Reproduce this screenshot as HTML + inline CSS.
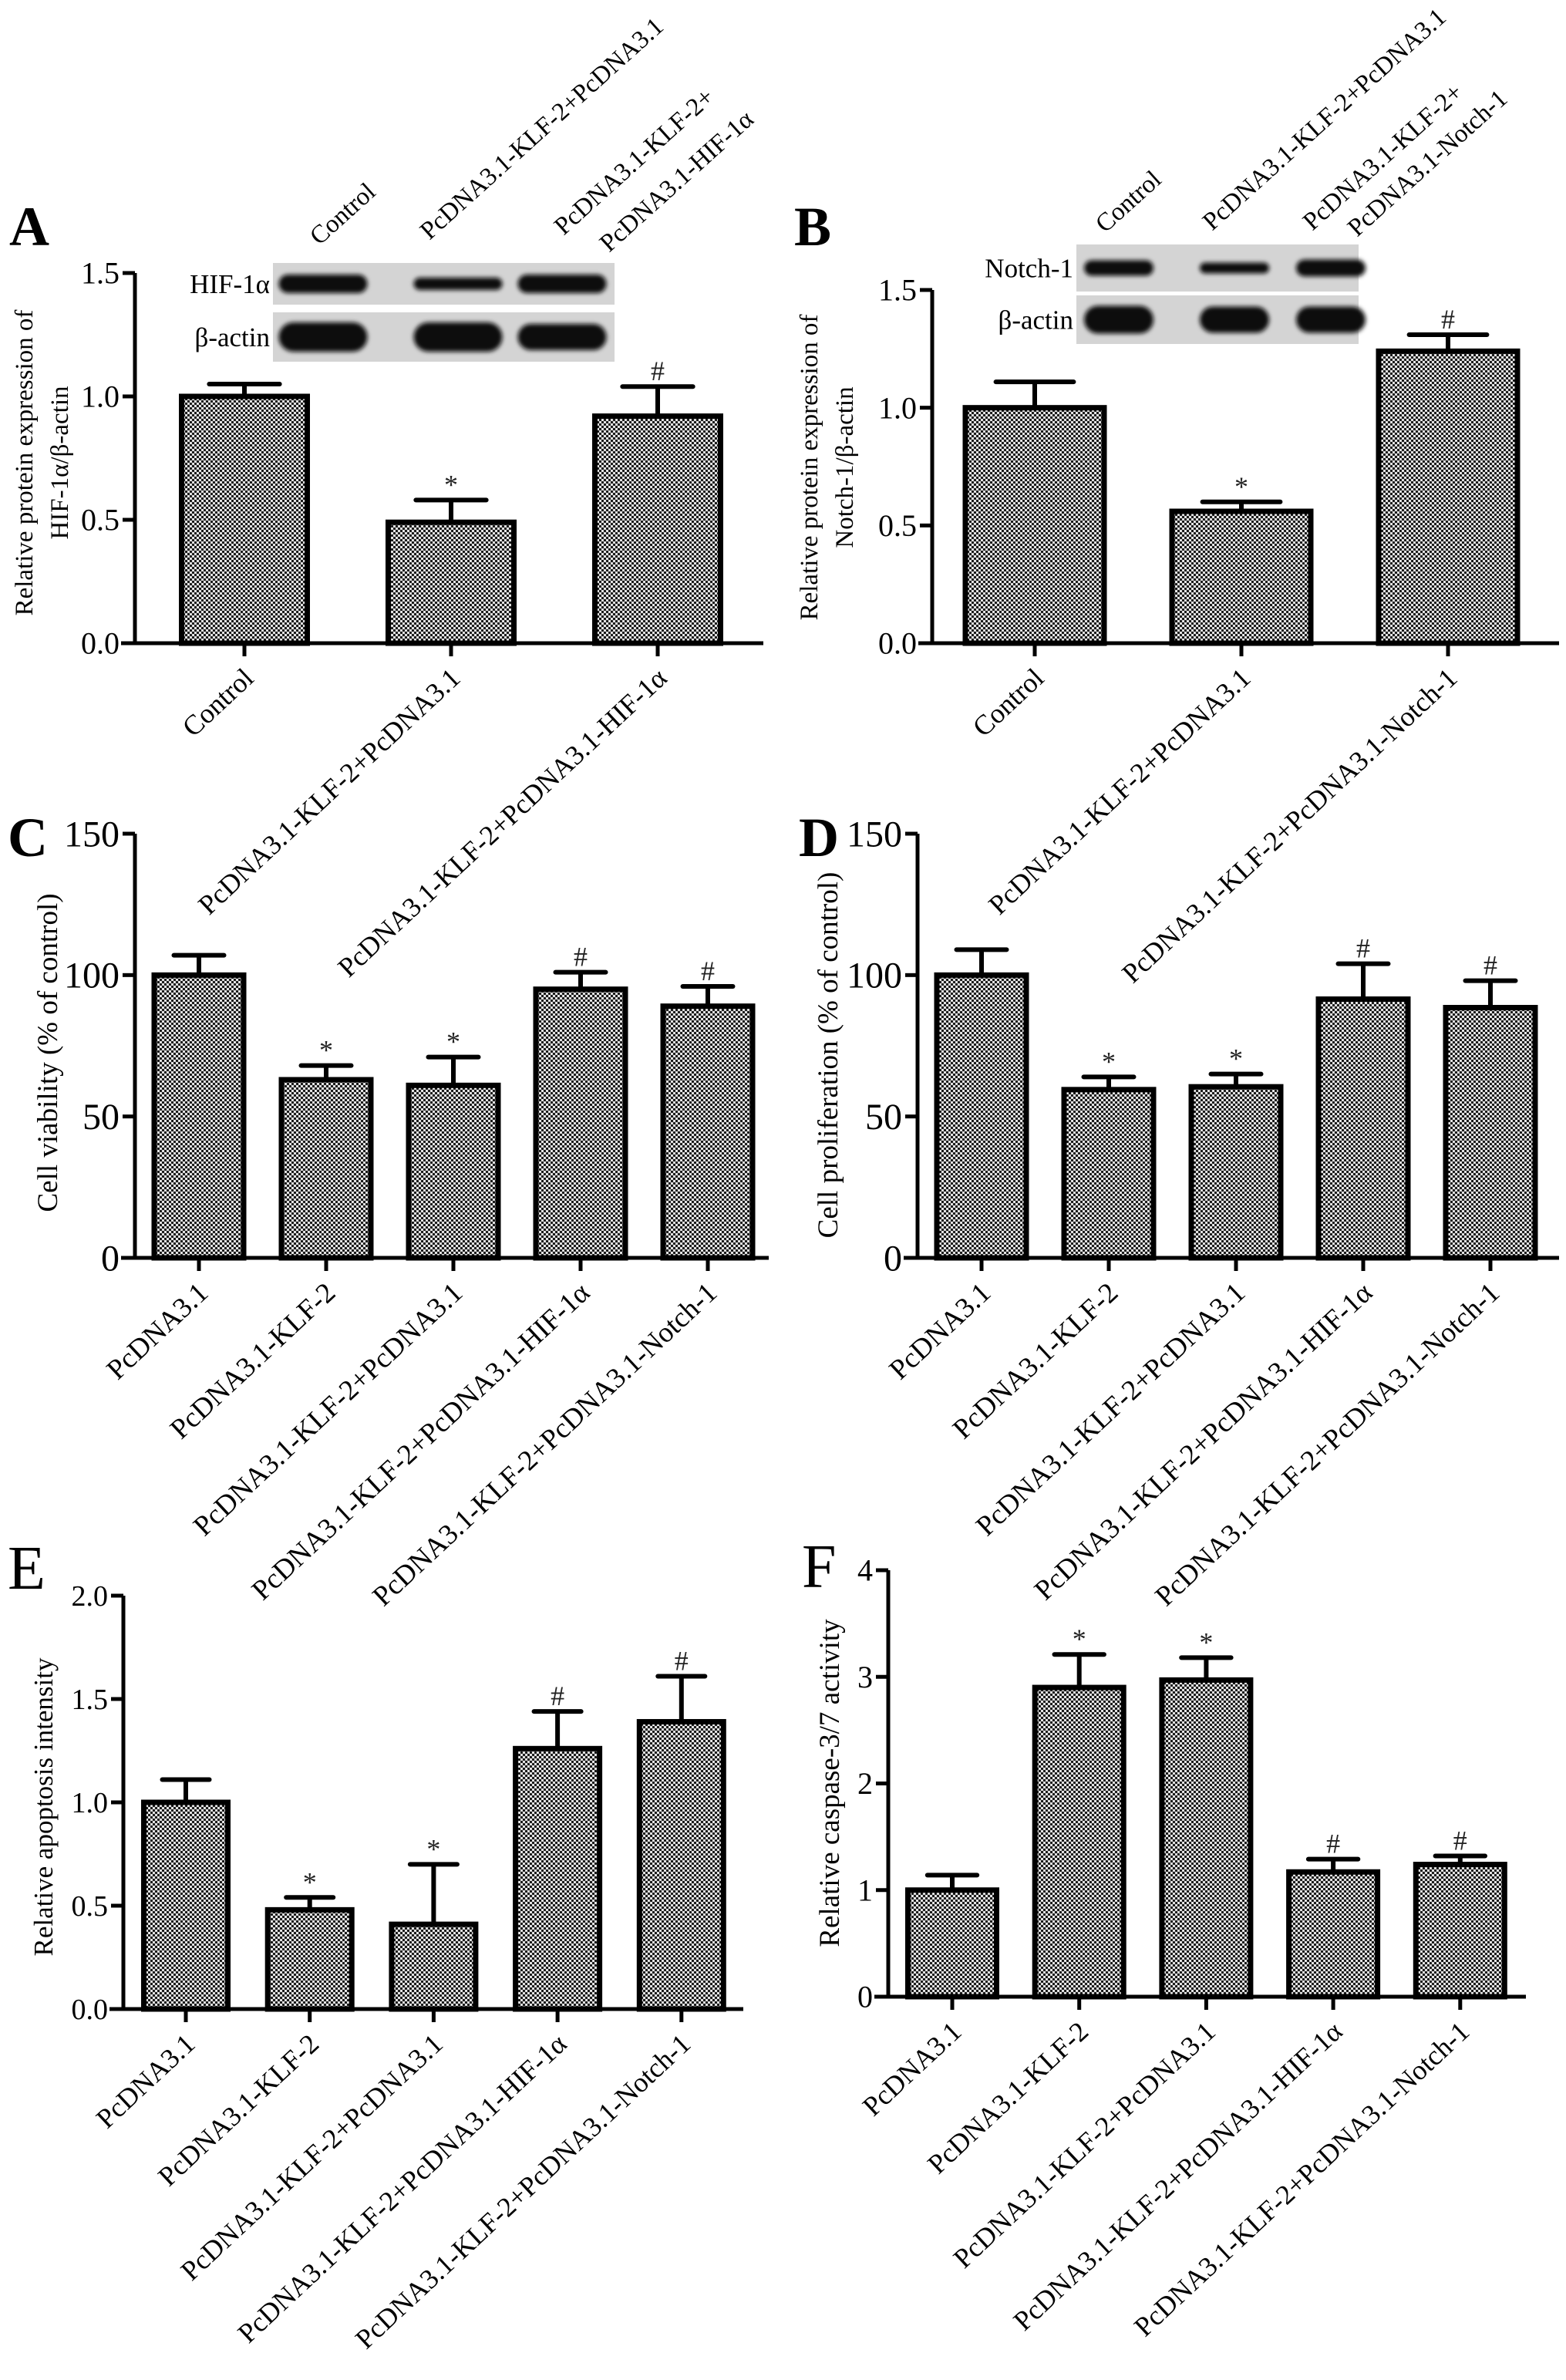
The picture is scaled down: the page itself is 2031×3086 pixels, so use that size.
<!DOCTYPE html>
<html><head><meta charset="utf-8"><style>
html,body{margin:0;padding:0;background:#fff;}
svg{display:block;font-family:"Liberation Serif",serif;}
</style></head><body>
<svg id="fig" width="2031" height="3086" viewBox="0 0 2031 3086" xmlns="http://www.w3.org/2000/svg">
<defs>
<pattern id="dots" width="6" height="6" patternUnits="userSpaceOnUse">
<rect width="6" height="6" fill="#bdbdbd"/>
<circle cx="1.5" cy="1.5" r="1.6" fill="#111"/>
<circle cx="4.5" cy="4.5" r="1.6" fill="#111"/>
<circle cx="4.5" cy="1.5" r="1.2" fill="#fff"/>
<circle cx="1.5" cy="4.5" r="1.2" fill="#fff"/>
</pattern>
<filter id="blur" x="-20%" y="-50%" width="140%" height="200%"><feGaussianBlur stdDeviation="3"/></filter>
</defs>
</svg>
<script>
// ---- data ----
const aCats=["Control","PcDNA3.1-KLF-2+PcDNA3.1","PcDNA3.1-KLF-2+PcDNA3.1-HIF-1α"];
const aVals=[1.0,0.49,0.92];
const aErr=[1.05,0.58,1.04];
const aMarks=["","*","#"];
const aTicks=["0.0","0.5","1.0","1.5"];
const bCats=["Control","PcDNA3.1-KLF-2+PcDNA3.1","PcDNA3.1-KLF-2+PcDNA3.1-Notch-1"];
const bVals=[1.0,0.56,1.24];
const bErr=[1.11,0.60,1.31];
const bMarks=["","*","#"];
const bTicks=["0.0","0.5","1.0","1.5"];
const fiveCats=["PcDNA3.1","PcDNA3.1-KLF-2","PcDNA3.1-KLF-2+PcDNA3.1","PcDNA3.1-KLF-2+PcDNA3.1-HIF-1α","PcDNA3.1-KLF-2+PcDNA3.1-Notch-1"];
const cVals=[100,63,61,95,89];
const cErr=[107,68,71,101,96];
const cMarks=["","*","*","#","#"];
const cTicks=["0","50","100","150"];
const dVals=[100,59.5,60.5,91.5,88.5];
const dErr=[109,64,65,104,98];
const dMarks=["","*","*","#","#"];
const dTicks=["0","50","100","150"];
const eVals=[1.0,0.48,0.41,1.26,1.39];
const eErr=[1.11,0.54,0.70,1.44,1.61];
const eMarks=["","*","*","#","#"];
const eTicks=["0.0","0.5","1.0","1.5","2.0"];
const fVals=[1.0,2.9,2.97,1.17,1.24];
const fErr=[1.14,3.21,3.18,1.29,1.32];
const fMarks=["","*","*","#","#"];
const fTicks=["0","1","2","3","4"];

const NS="http://www.w3.org/2000/svg";
const svg=document.getElementById('fig');
function mk(tag,attrs,parent){const e=document.createElementNS(NS,tag);for(const k in attrs)e.setAttribute(k,attrs[k]);(parent||svg).appendChild(e);return e;}
function txt(s,attrs,parent){const e=mk('text',attrs,parent);e.textContent=s;return e;}

function panel(o){
  const g=mk('g',{});
  
  
  const ymax=parseFloat(o.ticks[o.ticks.length-1]);
  const Y=v=>o.y0-(v/ymax)*(o.y0-o.yTop);
  const X=i=>o.first+i*o.step;
  o.vals.forEach((v,i)=>{
    const cx=X(i);
    const eb=mk('line',{x1:cx,x2:cx,y1:Y(v),y2:Y(o.err[i]),stroke:'#000','stroke-width':6},g);
    
    
    const cap=mk('line',{x1:cx-o.bw*0.28,x2:cx+o.bw*0.28,y1:Y(o.err[i]),y2:Y(o.err[i]),stroke:'#000','stroke-width':6,'stroke-linecap':'round'},g);
    
    
    const r=mk('rect',{x:cx-o.bw/2,y:Y(v),width:o.bw,height:o.y0-Y(v),fill:'url(#dots)',stroke:'#000','stroke-width':7},g);
    
    
    if(o.marks[i]){
      const m=txt(o.marks[i],{x:cx,y:Y(o.err[i])-8,'font-size':36,'text-anchor':'middle',fill:'#222'},g);
      
      
    }
    const t=mk('line',{x1:cx,x2:cx,y1:o.y0,y2:o.y0+17,stroke:'#000','stroke-width':5},g);
    
    
    const lx=cx+14, ly=o.y0+48;
    const l=txt(o.cats[i],{x:lx,y:ly,'font-size':o.xfs,'text-anchor':'end',transform:`rotate(-43 ${lx} ${ly})`},g);
    
    
  });
  const ya=mk('line',{x1:o.ax,x2:o.ax,y1:o.yTop,y2:o.y0,stroke:'#000','stroke-width':5},g);
  
  
  const xa=mk('line',{x1:o.ax-18,x2:o.xEnd,y1:o.y0,y2:o.y0,stroke:'#000','stroke-width':5},g);
  
  
  o.ticks.forEach(t=>{
    const y=Y(parseFloat(t));
    const tl=mk('line',{x1:o.ax-16,x2:o.ax,y1:y,y2:y,stroke:'#000','stroke-width':5},g);
    
    
    const tt=txt(t,{x:o.ax-20,y:y+o.yfs*0.34,'font-size':o.yfs,'text-anchor':'end'},g);
    
    
  });
  o.title.forEach((line,k)=>{
    const tx=o.tx+k*o.tdx, ty=o.ty;
    const tt=txt(line,{x:tx,y:ty,'font-size':o.tfs,'text-anchor':'middle',transform:`rotate(-90 ${tx} ${ty})`},g);
    
    
  });
  const L=txt(o.letter,{x:o.lx,y:o.ly,'font-size':o.lfs,'font-weight':o.bold?'bold':'normal'},g);
  
  
  return g;
}

panel({name:'panel-a',cats:aCats,vals:aVals,err:aErr,marks:aMarks,ticks:aTicks,ax:175,y0:834,yTop:354,xEnd:990,first:317,step:268,bw:163,xfs:36,yfs:40,title:["Relative protein expression of","HIF-1α/β-actin"],tx:42,tdx:46,ty:600,tfs:33,letter:"A",lx:12,ly:318,lfs:72,bold:true});
panel({name:'panel-b',cats:bCats,vals:bVals,err:bErr,marks:bMarks,ticks:bTicks,ax:1209,y0:834,yTop:376,xEnd:2022,first:1342,step:268,bw:180,xfs:36,yfs:40,title:["Relative protein expression of","Notch-1/β-actin"],tx:1060,tdx:46,ty:606,tfs:33,letter:"B",lx:1030,ly:318,lfs:72,bold:true});
panel({name:'panel-c',cats:fiveCats,vals:cVals,err:cErr,marks:cMarks,ticks:cTicks,ax:175,y0:1631,yTop:1081,xEnd:997,first:258,step:165,bw:116,xfs:37,yfs:48,title:["Cell viability (% of control)"],tx:74,tdx:0,ty:1365,tfs:37,letter:"C",lx:10,ly:1110,lfs:72,bold:true});
panel({name:'panel-d',cats:fiveCats,vals:dVals,err:dErr,marks:dMarks,ticks:dTicks,ax:1190,y0:1631,yTop:1081,xEnd:2022,first:1273,step:165,bw:116,xfs:37,yfs:48,title:["Cell proliferation (% of control)"],tx:1086,tdx:0,ty:1368,tfs:37,letter:"D",lx:1036,ly:1110,lfs:72,bold:true});
panel({name:'panel-e',cats:fiveCats,vals:eVals,err:eErr,marks:eMarks,ticks:eTicks,ax:160,y0:2605,yTop:2069,xEnd:964,first:241,step:160.7,bw:109,xfs:36,yfs:38,title:["Relative apoptosis intensity"],tx:68,tdx:0,ty:2343,tfs:35,letter:"E",lx:10,ly:2060,lfs:80,bold:false});
panel({name:'panel-f',cats:fiveCats,vals:fVals,err:fErr,marks:fMarks,ticks:fTicks,ax:1152,y0:2589,yTop:2036,xEnd:1979,first:1235,step:164.7,bw:115,xfs:36,yfs:40,title:["Relative caspase-3/7 activity"],tx:1088,tdx:0,ty:2312,tfs:37,letter:"F",lx:1040,ly:2058,lfs:80,bold:false});

function blot(name,x,y,w,h1,h2,gap,labels,rowNames,bandXs,bandW,thick){
  const g=mk('g',{});
  
  
  const rows=[[y,h1],[y+h1+gap,h2]];
  rows.forEach((r,ri)=>{
    mk('rect',{x:x,y:r[0],width:w,height:r[1],fill:'#d4d4d4'},g);
    bandXs.forEach((bx,bi)=>{
      const th=thick[ri][bi];
      mk('rect',{x:x+bx-bandW/2,y:r[0]+r[1]/2-th/2,width:bandW,height:th,rx:th/2,fill:'#111',filter:'url(#blur)'},g);
    });
    const t=txt(rowNames[ri],{x:x-4,y:r[0]+r[1]/2+12,'font-size':35,'text-anchor':'end'},g);
    
    
  });
  labels.forEach(l=>{
    const t=txt(l[0],{x:l[1],y:l[2],'font-size':33,transform:`rotate(-42 ${l[1]} ${l[2]})`},g);
    
    
  });
}
blot('western-blot-a',354,341,443,54,64,10,
  [["Control",414,319],["PcDNA3.1-KLF-2+PcDNA3.1",557,312],["PcDNA3.1-KLF-2+",731,306],["PcDNA3.1-HIF-1α",790,328]],
  ["HIF-1α","β-actin"],[65,240,375],115,[[24,16,24],[38,38,34]]);
blot('western-blot-b',1396,317,366,61,63,5,
  [["Control",1433,303],["PcDNA3.1-KLF-2+PcDNA3.1",1572,300],["PcDNA3.1-KLF-2+",1702,300],["PcDNA3.1-Notch-1",1760,308]],
  ["Notch-1","β-actin"],[55,205,330],90,[[20,14,22],[36,34,34]]);
</script>
</body></html>
